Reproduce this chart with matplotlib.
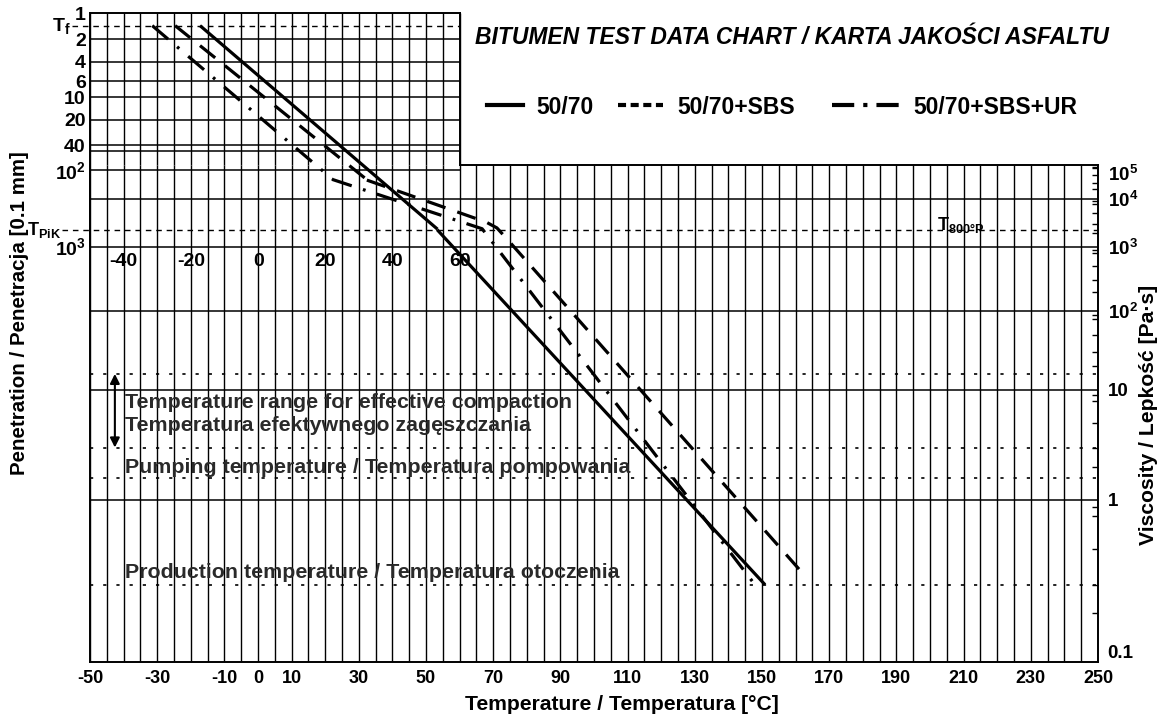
import numpy as np
import matplotlib.pyplot as plt
from matplotlib.lines import Line2D
from matplotlib.ticker import FixedLocator, NullFormatter

plt.rcParams['font.family'] = ['Liberation Sans', 'DejaVu Sans']
plt.rcParams['font.weight'] = 'bold'
plt.rcParams['mathtext.default'] = 'regular'
plt.rcParams['lines.scale_dashes'] = False
plt.rcParams['axes.linewidth'] = 1.4
plt.rcParams['axes.unicode_minus'] = False

# temperature scale [°C]
temp_ticks = [-50, -30, -10, 0, 10, 30, 50, 70, 90, 110, 130, 150, 170, 190, 210, 230, 250]
pen_temp_ticks = [-40, -20, 0, 20, 40, 60]
temp_grid_step = 5

# penetration scale [0.1 mm] (printed values and their depth on the chart)
pen_ticks = [1, 2, 4, 6, 10, 20, 40, 100, 1000]
pen_labels = ['1', '2', '4', '6', '10', '20', '40', '10$^2$', '10$^3$']
pen_depth = [0, 26, 49, 68, 84, 107, 132, 157, 233]
pen_grid = [2, 4, 6, 10, 20, 40, 50, 100]

# viscosity scale [Pa·s] (printed values and their height on the chart)
visc_ticks = [0.1, 1, 10, 100, 1e3, 1e4, 1e5]
visc_labels = ['0.1', '1', '10', '10$^2$', '10$^3$', '10$^4$', '10$^5$']
visc_height = [0, 162, 272, 351, 415, 463, 497]
visc_grid = [1, 10, 100, 1e3, 1e4]
visc_minor = [m * 10.0 ** k for k in range(-1, 5) for m in (2, 3, 5, 8, 9)]

# reference levels
pen_fraass = 1.4          # T_f
visc_softening = 2300     # T_PiK / T_800P
visc_compaction = [16, 3]
visc_pumping = 1.6
visc_production = 0.3

# test data: penetration part and viscosity part of each binder
pen_5070_t = [-17.3, 53.3]
pen_5070 = [1.4, 600]
visc_5070_t = [53.3, 150.9]
visc_5070 = [2300, 0.3]

pen_sbs_t = [-24.7, 32.4]
pen_sbs = [1.4, 135]
visc_sbs_t = [32.4, 67.9, 71.1, 74.1, 162.8]
visc_sbs = [36000, 3300, 2500, 1470, 0.34]

pen_ur_t = [-31.5, 22.0]
pen_ur = [1.4, 131]
visc_ur_t = [22.0, 66.7, 147.9]
visc_ur = [38000, 2400, 0.3]


def to_pos(values, marks, pos):
    v = np.log10(np.maximum(np.asarray(values, float), 1e-12))
    lm = np.log10(marks)
    out = np.interp(v, lm, pos)
    out = np.where(v < lm[0], pos[0] + (v - lm[0]) * (pos[1] - pos[0]) / (lm[1] - lm[0]), out)
    out = np.where(v > lm[-1], pos[-1] + (v - lm[-1]) * (pos[-1] - pos[-2]) / (lm[-1] - lm[-2]), out)
    return out


def from_pos(p, marks, pos):
    p = np.asarray(p, float)
    lm = np.log10(marks)
    out = np.interp(p, pos, lm)
    out = np.where(p < pos[0], lm[0] + (p - pos[0]) * (lm[1] - lm[0]) / (pos[1] - pos[0]), out)
    out = np.where(p > pos[-1], lm[-1] + (p - pos[-1]) * (lm[-1] - lm[-2]) / (pos[-1] - pos[-2]), out)
    return 10.0 ** out


W, H = 1161, 718
fig = plt.figure(figsize=(W / 100, H / 100), dpi=100)
fig.patch.set_facecolor('white')
ax_p = fig.add_axes([90 / W, 472 / H, 370 / W, 233 / H])
ax_v = fig.add_axes([90 / W, 56 / H, 1008 / W, 497 / H])
ax_p.set_zorder(1)
ax_v.set_zorder(2)
ax_p.patch.set_visible(False)
ax_v.patch.set_visible(False)

# ---- viscosity part ----
ax_v.set_yscale('function', functions=(lambda v: to_pos(v, visc_ticks, visc_height),
                                        lambda h: from_pos(h, visc_ticks, visc_height)))
ax_v.set_xlim(-50, 250)
ax_v.set_ylim(0.1, 1e5)
ax_v.set_xticks(temp_ticks)
ax_v.tick_params(axis='x', which='both', length=0, pad=6, labelsize=13)

ax_v.yaxis.tick_right()
ax_v.set_yticks(visc_ticks, visc_labels)
ax_v.yaxis.set_minor_locator(FixedLocator(visc_minor))
ax_v.yaxis.set_minor_formatter(NullFormatter())
ax_v.tick_params(axis='y', which='major', length=0, pad=7, labelsize=13.5)
ax_v.tick_params(axis='y', which='minor', direction='in', length=4, width=1)
ylabels = ax_v.get_yticklabels()
ylabels[0].set_va('bottom')
ylabels[-1].set_va('top')
for v in visc_grid:
    ax_v.axhline(v, color='black', lw=1.1, zorder=1)
for v in visc_compaction + [visc_pumping, visc_production]:
    ax_v.axhline(v, color='black', lw=1.2, ls=(0, (2.3, 7.2)), zorder=1)
ax_v.spines['top'].set_bounds(60, 250)

ax_v.axhline(visc_softening, xmin=-0.028, xmax=1, color='black', lw=1.0,
             ls=(0, (4, 3.5)), clip_on=False, zorder=1)

# ---- penetration part ----
ax_p.set_yscale('function', functions=(lambda p: to_pos(p, pen_ticks, pen_depth),
                                        lambda d: from_pos(d, pen_ticks, pen_depth)))
ax_p.set_xlim(-50, 60)
ax_p.set_ylim(1000, 1)
ax_p.set_xticks(pen_temp_ticks)
ax_p.tick_params(axis='x', which='both', length=0, pad=5, labelsize=14)
ax_p.set_yticks(pen_ticks, pen_labels)
ax_p.tick_params(axis='y', which='both', length=0, pad=3, labelsize=14)
for p in pen_grid:
    ax_p.axhline(p, color='black', lw=1.1, zorder=1)
ax_p.spines['bottom'].set_visible(False)
y_top_v = ax_v.transData.transform((0, 1e5))[1]
pen_at_top_v = ax_p.transData.inverted().transform((0, y_top_v))[1]
ax_p.spines['right'].set_bounds(1, pen_at_top_v)

ax_p.axhline(pen_fraass, xmin=-0.05, xmax=1, color='black', lw=1.0,
             ls=(0, (4, 3.5)), clip_on=False, zorder=1)

# vertical temperature grid: whole viscosity field, extended up through the penetration box
grid_t = np.arange(-50, 251, temp_grid_step)
ax_v.vlines(grid_t, 0, 1, transform=ax_v.get_xaxis_transform(),
            color='black', lw=1.0, zorder=1)
pen_top = ax_v.transAxes.inverted().transform(ax_p.transAxes.transform((0, 1)))[1]
grid_tp = grid_t[grid_t <= ax_p.get_xlim()[1]]
ax_v.vlines(grid_tp, 1, pen_top, transform=ax_v.get_xaxis_transform(),
            color='black', lw=1.0, zorder=1, clip_on=False)

# ---- binder curves ----
styles = {
    '50/70': dict(ls='-'),
    '50/70+SBS': dict(ls=(0, (14, 9))),
    '50/70+SBS+UR': dict(ls=(0, (15, 8.5, 2, 8.5))),
}
curves = [
    ('50/70', pen_5070_t, pen_5070, visc_5070_t, visc_5070),
    ('50/70+SBS', pen_sbs_t, pen_sbs, visc_sbs_t, visc_sbs),
    ('50/70+SBS+UR', pen_ur_t, pen_ur, visc_ur_t, visc_ur),
]
for name, pt, pv, vt, vv in curves:
    ax_p.plot(pt, pv, color='black', lw=2.3, solid_capstyle='butt',
              dash_capstyle='butt', zorder=3, **styles[name])
    ax_v.plot(vt, vv, color='black', lw=2.3, solid_capstyle='butt',
              dash_capstyle='butt', zorder=3, **styles[name])

# ---- level labels ----
ax_p.text(-0.052, pen_fraass, 'T$_{f}$', transform=ax_p.get_yaxis_transform(),
          ha='right', va='center', fontsize=14)
ax_v.text(-0.029, visc_softening, 'T$_{PiK}$', transform=ax_v.get_yaxis_transform(),
          ha='right', va='center', fontsize=13)
ax_v.text(202, visc_softening, 'T$_{800°P}$', ha='left', va='baseline', fontsize=13)

txt = '#2a2a2a'
ax_v.annotate('', xy=(-42.6, visc_compaction[1]), xytext=(-42.6, visc_compaction[0]),
              arrowprops=dict(arrowstyle='<|-|>', color='black', lw=1.5,
                              shrinkA=0, shrinkB=0, mutation_scale=14))
ax_v.text(-39.6, np.sqrt(visc_compaction[0] * visc_compaction[1]) * 0.87,
          'Temperature range for effective compaction\nTemperatura efektywnego zagęszczania',
          ha='left', va='center', fontsize=15.4, color=txt, linespacing=1.3)
ax_v.text(-39.6, np.sqrt(visc_compaction[1] * visc_pumping) * 0.9,
          'Pumping temperature / Temperatura pompowania',
          ha='left', va='center', fontsize=15.4, color=txt)
ax_v.text(-39.6, visc_production * 1.04, 'Production temperature / Temperatura otoczenia',
          ha='left', va='bottom', fontsize=15.4, color=txt)

# ---- axis titles, title, legend ----
fig.text(622 / W, 1 - 705 / H, 'Temperature / Temperatura [°C]',
         ha='center', va='center', fontsize=15.2)
fig.text(20 / W, 1 - 313 / H, 'Penetration / Penetracja [0.1 mm]',
         ha='center', va='center', rotation=90, fontsize=14.8)
fig.text(1149 / W, 1 - 415 / H, 'Viscosity / Lepkość [Pa·s]',
         ha='center', va='center', rotation=90, fontsize=15.2)
fig.text(475 / W, 1 - 38 / H, 'BITUMEN TEST DATA CHART / KARTA JAKOŚCI ASFALTU',
         ha='left', va='center', fontsize=16.5, fontstyle='italic')

legend_items = [
    ('50/70', '-', 487, 1.57, 0.6),
    ('50/70+SBS', (0, (5.8, 3.3)), 618, 1.96, 0.65),
    ('50/70+SBS+UR', (0, (16, 6.5, 3, 6.5)), 832, 3.1, 0.45),
]
for label, ls, x0, hl, pad in legend_items:
    fig.legend([Line2D([], [], color='black', lw=3, ls=ls, dash_capstyle='butt')], [label],
               loc='center left', bbox_to_anchor=(x0 / W, 1 - 107 / H),
               frameon=False, fontsize=16.5, handlelength=hl, handletextpad=pad,
               borderpad=0, borderaxespad=0)

fig.savefig('out.png', dpi=100)
